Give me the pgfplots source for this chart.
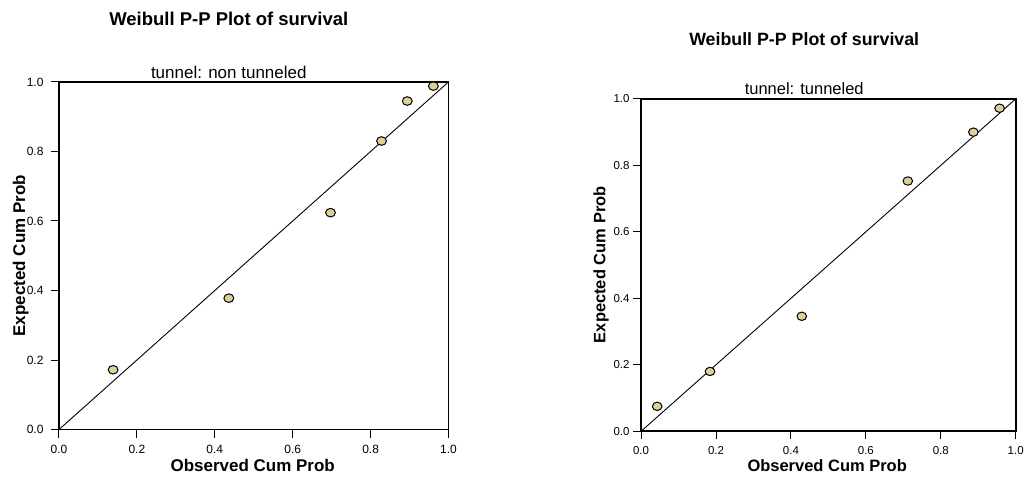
\documentclass[border=0pt]{standalone}
\usepackage{pgfplots}
\pgfplotsset{compat=1.18}
\usepackage{fontspec}
\setmainfont{Liberation Sans}
\definecolor{markfill}{RGB}{218,208,152}
\pgfplotsset{
  ppstyle/.style={
    scale only axis,
    xmin=0, xmax=1, ymin=0, ymax=1,
    xtick={0,0.2,...,1.0}, ytick={0,0.2,...,1.0},
    tick label style={/pgf/number format/fixed, /pgf/number format/fixed zerofill, /pgf/number format/precision=1},
    /pgf/number format/assume math mode=true,
    tick align=outside, xtick pos=bottom, ytick pos=left,
    major tick length=8bp,
    tick style={black, line width=1bp},
    axis line style={black, line width=1.6bp},
    clip=false,
    anchor=south west,
  },
}
\begin{document}
\begin{tikzpicture}
\path (0bp,0bp) rectangle (1027bp,477bp);
% Left panel
\begin{axis}[ppstyle, at={(59bp,47bp)}, width=390bp, height=348bp,
  tick label style={font=\fontsize{12bp}{14bp}\selectfont},
  xticklabel style={yshift=-4bp}, yticklabel style={xshift=-4bp}]
\addplot[black, line width=0.9bp] coordinates {(0,0) (1,1)};
\addplot[only marks, mark=*, mark size=4.3bp,
  mark options={xscale=1.15, fill=markfill, draw=black, line width=1bp}]
  coordinates {(0.139,0.172) (0.436,0.378) (0.697,0.624) (0.828,0.830) (0.894,0.945) (0.961,0.988)};
\end{axis}
\node[font=\bfseries\fontsize{18.5bp}{22bp}\selectfont] at (229bp,458bp) {Weibull P-P Plot of survival};
\node[font=\fontsize{17bp}{20bp}\selectfont] at (229bp,404bp) {tunnel: non tunneled};
\node[font=\bfseries\fontsize{17bp}{20bp}\selectfont] at (253bp,11bp) {Observed Cum Prob};
\node[font=\bfseries\fontsize{17bp}{20bp}\selectfont, rotate=90] at (20.7bp,221bp) {Expected Cum Prob};
% Right panel
\begin{axis}[ppstyle, at={(641.7bp,45.3bp)}, width=375bp, height=332.7bp,
  tick label style={font=\fontsize{11.5bp}{13bp}\selectfont},
  xticklabel style={yshift=-4bp}]
\addplot[black, line width=0.9bp] coordinates {(0,0) (1,1)};
\addplot[only marks, mark=*, mark size=4.2bp,
  mark options={xscale=1.15, fill=markfill, draw=black, line width=1bp}]
  coordinates {(0.043,0.075) (0.184,0.180) (0.429,0.346) (0.712,0.753) (0.887,0.900) (0.957,0.972)};
\end{axis}
\node[font=\bfseries\fontsize{17.8bp}{21bp}\selectfont] at (805bp,438bp) {Weibull P-P Plot of survival};
\node[font=\fontsize{16.5bp}{20bp}\selectfont] at (805bp,388bp) {tunnel: tunneled};
\node[font=\bfseries\fontsize{16.5bp}{20bp}\selectfont] at (828bp,11bp) {Observed Cum Prob};
\node[font=\bfseries\fontsize{16.5bp}{20bp}\selectfont, rotate=90] at (601.7bp,212bp) {Expected Cum Prob};
\end{tikzpicture}
\end{document}
